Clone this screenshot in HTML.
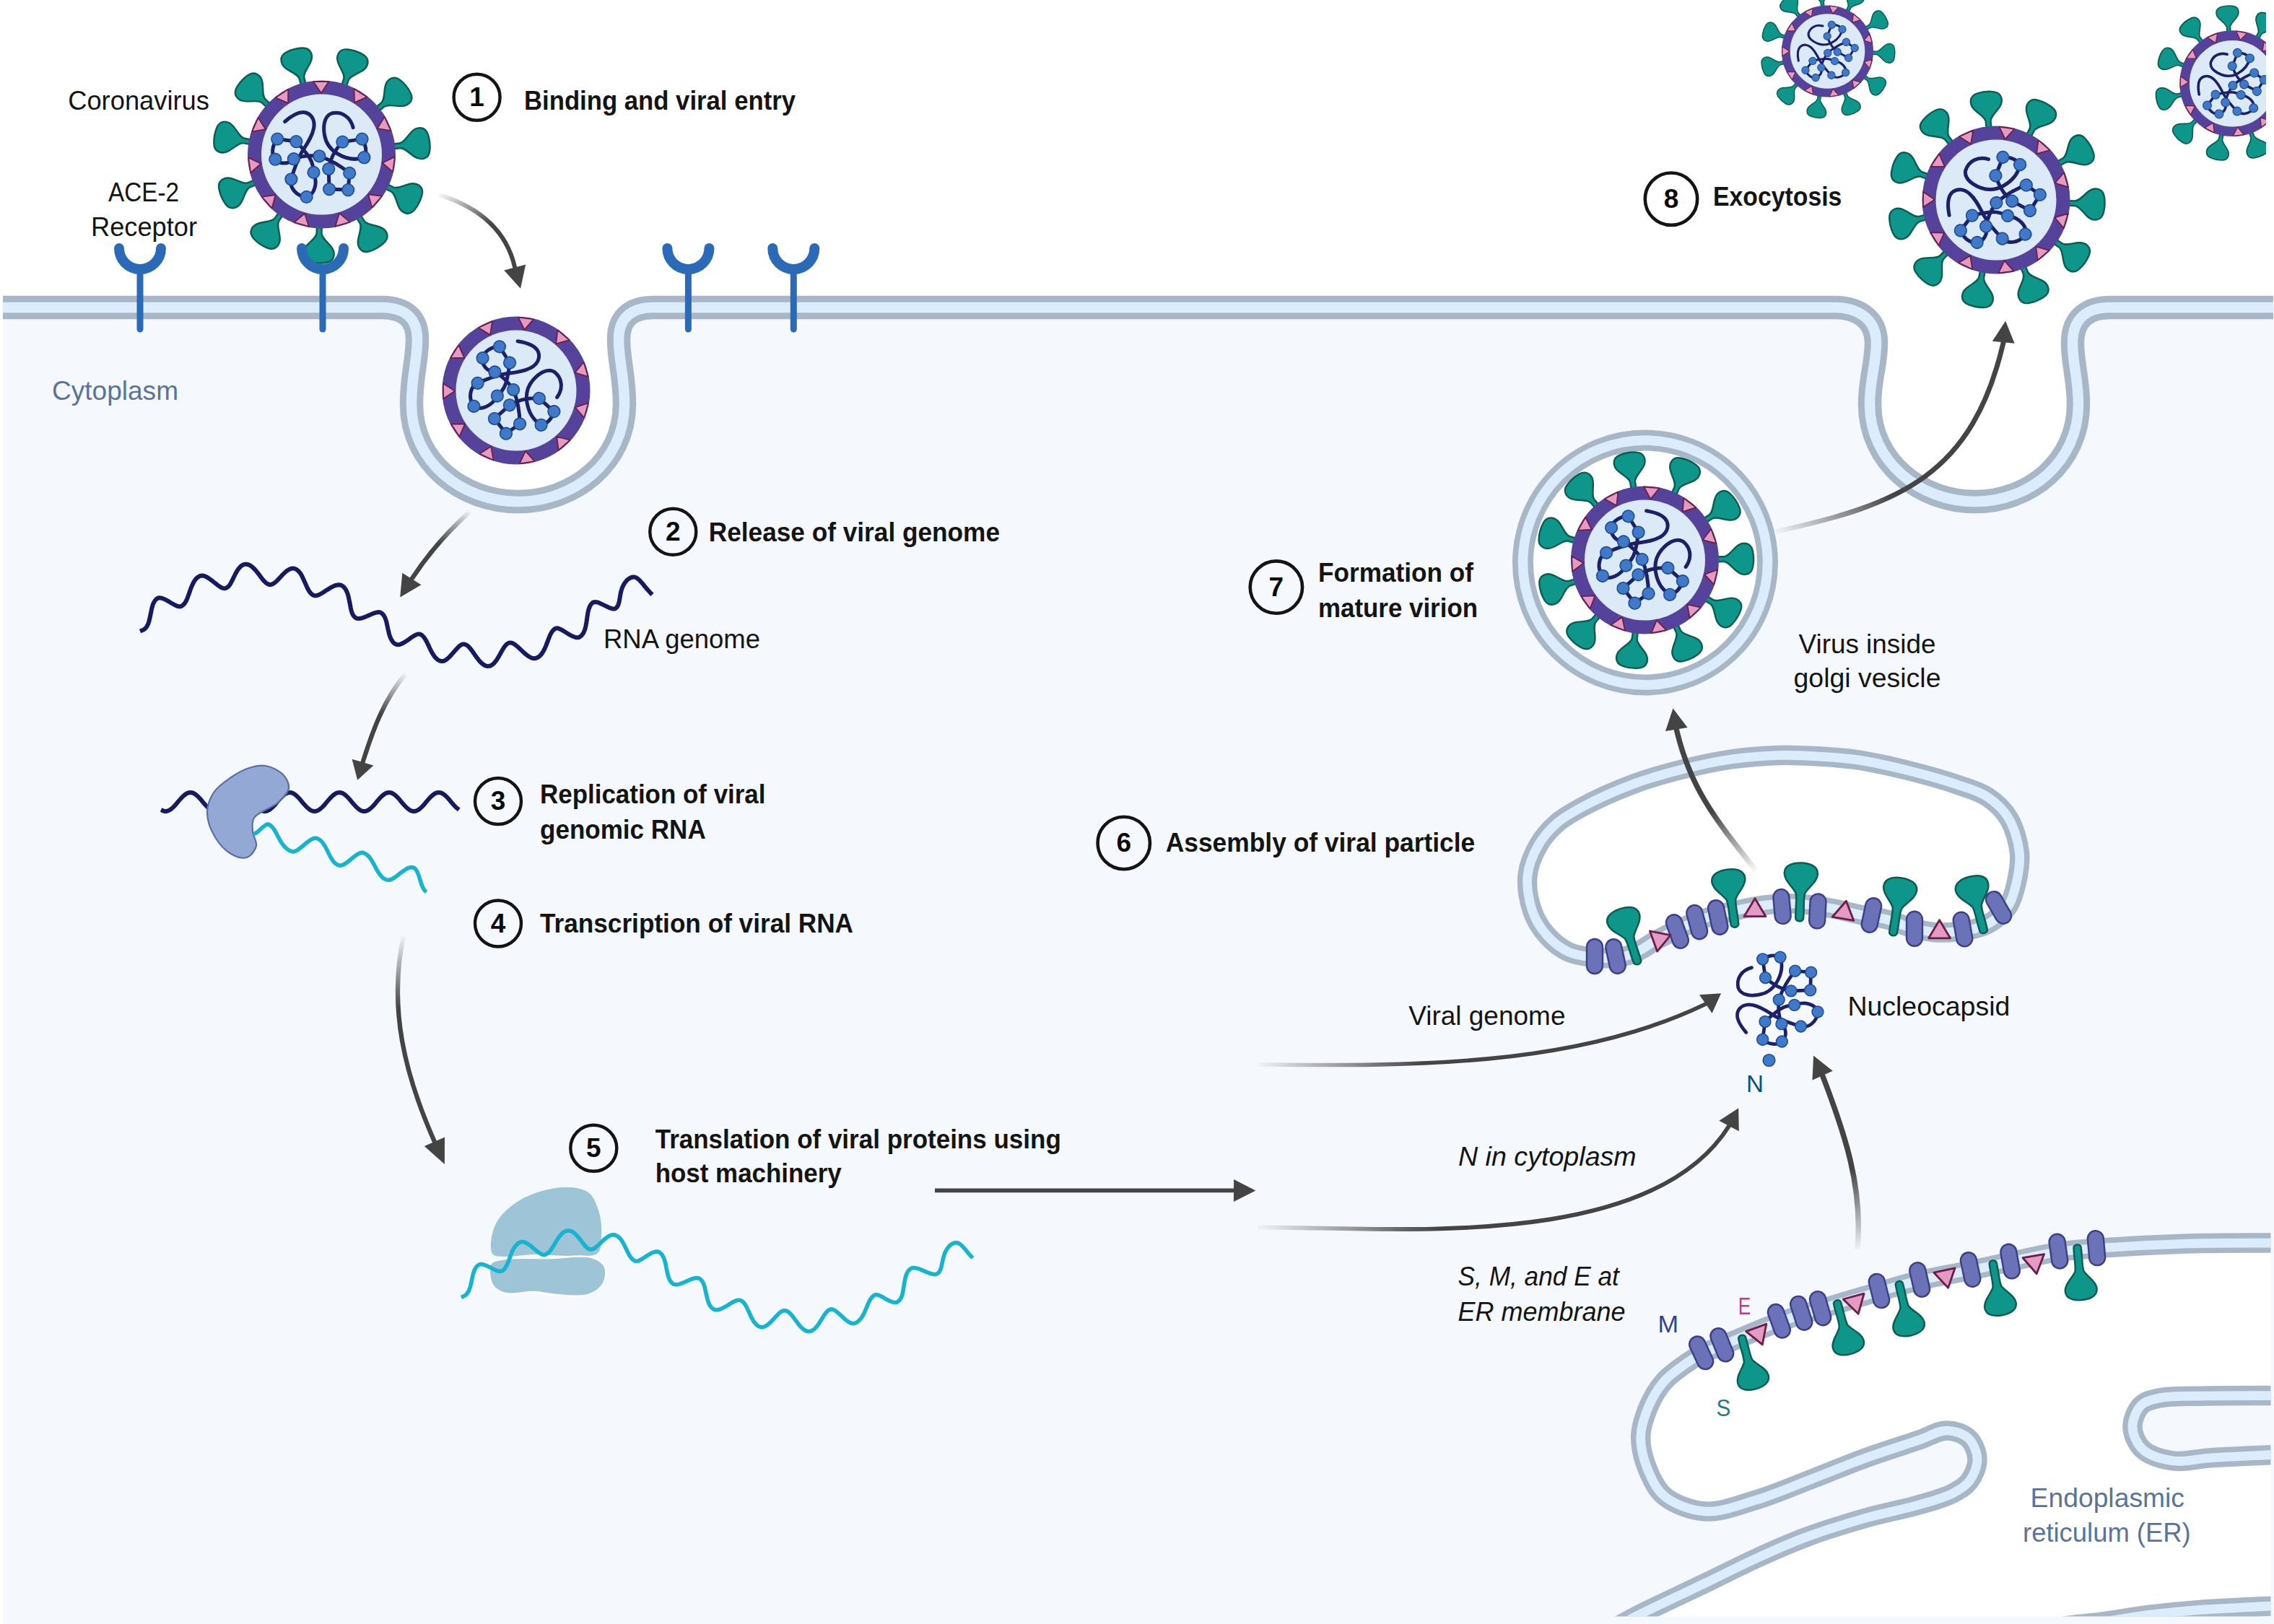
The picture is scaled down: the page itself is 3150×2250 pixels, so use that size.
<!DOCTYPE html><html><head><meta charset="utf-8"><style>html,body{margin:0;padding:0;background:#f5f9fd;}body{width:3150px;height:2250px;overflow:hidden;font-family:"Liberation Sans",sans-serif;}svg{display:block;}</style></head><body><svg xmlns="http://www.w3.org/2000/svg" width="3150" height="2250" viewBox="0 0 3150 2250" font-family="Liberation Sans, sans-serif"><defs><clipPath id="pmclip"><rect x="4" y="0" width="3145" height="2250"/></clipPath><clipPath id="erclip"><rect x="0" y="0" width="3145.5" height="2239.5"/></clipPath><path id="spk" d="M-3.4,6 L-3.4,-8 C-3.4,-14 -10,-18 -17,-26 C-24,-34 -23.5,-46 -11,-48.5 C-4,-50 4,-50 11,-48.5 C23.5,-46 24,-34 17,-26 C10,-18 3.4,-14 3.4,-8 L3.4,6 Z" fill="#0f968a" stroke="#0b5c53" stroke-width="2.4" stroke-linejoin="round"/><g id="vspikes"><use href="#spk" transform="rotate(90) translate(0,-101)"/><use href="#spk" transform="rotate(122.7) translate(0,-101)"/><use href="#spk" transform="rotate(155.5) translate(0,-101)"/><use href="#spk" transform="rotate(188.2) translate(0,-101)"/><use href="#spk" transform="rotate(220.9) translate(0,-101)"/><use href="#spk" transform="rotate(253.6) translate(0,-101)"/><use href="#spk" transform="rotate(286.4) translate(0,-101)"/><use href="#spk" transform="rotate(319.1) translate(0,-101)"/><use href="#spk" transform="rotate(351.8) translate(0,-101)"/><use href="#spk" transform="rotate(384.5) translate(0,-101)"/><use href="#spk" transform="rotate(417.3) translate(0,-101)"/></g><g id="genome"><g fill="none" stroke="#1b2068" stroke-width="5" stroke-linecap="round" stroke-linejoin="round"><path d="M-50.9,-45.5 C-40,-55 -30,-60 -22,-58 C-12,-55 -9,-45 -11,-36 C-13,-25 -20,-15 -27,-4 C-33,6 -38,20 -42.1,34.3"/><path d="M43.6,-37.3 C40,-52 28,-60 14,-57 C3,-53 2,-38 4,-27 C6,-15 12,-7 22,-1 C32,5 45,9 58.9,4.2"/><path d="M-35.2,-17.9 C-28,-10 -18,0 -14,10 C-12,15 -11,20 -11,24.9"/><path d="M-35.2,-17.9 L-61.3,-21.4 C-69,-12 -70,0 -64.2,6.7 C-58,14 -46,14 -38.6,6.2"/><path d="M-38.6,6.2 C-28,2 -15,1 -3.2,2.3"/><path d="M-3.2,2.3 C8,6 22,12 38.7,25.9"/><path d="M28.9,-17.4 L56,-21.4 C62,-12 63,-4 58.9,4.2"/><path d="M28.9,-17.4 C20,-8 12,4 9.7,20"/><path d="M-42.1,34.3 C-45,46 -35,58 -20.9,58.9 C-10,56 -5,40 -11,24.9"/><path d="M9.7,20 L10.6,48.1 L36.7,49.1 L38.7,25.9"/></g><g fill="#3f79c8" stroke="#1c4b98" stroke-width="1.6"><circle cx="-61.3" cy="-21.4" r="8.3"/><circle cx="-35.2" cy="-17.9" r="8.3"/><circle cx="-64.2" cy="6.7" r="8.3"/><circle cx="-38.6" cy="6.2" r="8.3"/><circle cx="-3.2" cy="2.3" r="8.3"/><circle cx="28.9" cy="-17.4" r="8.3"/><circle cx="56" cy="-21.4" r="8.3"/><circle cx="58.9" cy="4.2" r="8.3"/><circle cx="-11" cy="24.9" r="8.3"/><circle cx="-42.1" cy="34.3" r="8.3"/><circle cx="-20.9" cy="58.9" r="8.3"/><circle cx="9.7" cy="20" r="8.3"/><circle cx="38.7" cy="25.9" r="8.3"/><circle cx="10.6" cy="48.1" r="8.3"/><circle cx="36.7" cy="49.1" r="8.3"/></g></g><circle id="vring" r="93" fill="#dbeaf6" stroke="#55439b" stroke-width="19"/><path id="vtri" d="M100.5,14.5 L95.3,35 L82.4,20.9 Z M76.7,66.5 L61.2,81 L58,62.1 Z M28.6,97.4 L7.7,101.2 L15.3,83.6 Z M-28.6,97.4 L-48.2,89.3 L-32.4,78.6 Z M-76.7,66.4 L-88.9,49 L-69.7,48.6 Z M-100.5,14.4 L-101.3,-6.8 L-84.9,3.2 Z M-92.3,-42.2 L-81.5,-60.5 L-73.2,-43.2 Z M-54.8,-85.4 L-35.9,-94.9 L-38.2,-75.9 Z M0,-101.5 L21.1,-99.3 L8.9,-84.5 Z M54.9,-85.4 L71.5,-72.1 L53.2,-66.3 Z M92.3,-42.1 L99.1,-22 L80.6,-27 Z" fill="#e39bc4" stroke="#6e1d48" stroke-width="1.8" stroke-linejoin="round"/><clipPath id="rvclip"><rect x="0" y="0" width="3139" height="400"/></clipPath><rect id="mprot" x="-11" y="-24" width="22" height="48" rx="11" fill="#6b72b8" stroke="#3c3e8a" stroke-width="2.4"/><path id="eprot" d="M-15,9 L15,9 L0,-16 Z" fill="#e39bc4" stroke="#6e1d48" stroke-width="2.8" stroke-linejoin="round"/><path id="sprot" d="M-5,4 C-6,-10 -4,-22 -6,-30 C-10,-38 -22,-46 -22,-56 C-22,-68 -8,-70 0,-70 C8,-70 22,-68 22,-56 C22,-46 10,-38 6,-30 C4,-22 6,-10 5,4 C3,8 -3,8 -5,4 Z" fill="#0f968a" stroke="#0b5c53" stroke-width="2.4" stroke-linejoin="round"/><linearGradient id="ag0" gradientUnits="userSpaceOnUse" x1="607.7" y1="269.7" x2="658.7" y2="328.2"><stop offset="0" stop-color="#444444" stop-opacity="0.03"/><stop offset="1" stop-color="#444444" stop-opacity="1"/></linearGradient><linearGradient id="ag1" gradientUnits="userSpaceOnUse" x1="651.2" y1="708.6" x2="612.4" y2="756.2"><stop offset="0" stop-color="#444444" stop-opacity="0.03"/><stop offset="1" stop-color="#444444" stop-opacity="1"/></linearGradient><linearGradient id="ag2" gradientUnits="userSpaceOnUse" x1="561.7" y1="933.6" x2="535.1" y2="992.4"><stop offset="0" stop-color="#444444" stop-opacity="0.03"/><stop offset="1" stop-color="#444444" stop-opacity="1"/></linearGradient><linearGradient id="ag3" gradientUnits="userSpaceOnUse" x1="558.8" y1="1297.2" x2="575.9" y2="1391.9"><stop offset="0" stop-color="#444444" stop-opacity="0.03"/><stop offset="1" stop-color="#444444" stop-opacity="1"/></linearGradient><linearGradient id="ag5" gradientUnits="userSpaceOnUse" x1="1741.8" y1="1474.9" x2="1966.6" y2="1440.4"><stop offset="0" stop-color="#444444" stop-opacity="0.03"/><stop offset="1" stop-color="#444444" stop-opacity="1"/></linearGradient><linearGradient id="ag6" gradientUnits="userSpaceOnUse" x1="1742.1" y1="1700.5" x2="1975.2" y2="1642.6"><stop offset="0" stop-color="#444444" stop-opacity="0.03"/><stop offset="1" stop-color="#444444" stop-opacity="1"/></linearGradient><linearGradient id="ag7" gradientUnits="userSpaceOnUse" x1="2572.9" y1="1731.2" x2="2548.6" y2="1623.7"><stop offset="0" stop-color="#444444" stop-opacity="0.03"/><stop offset="1" stop-color="#444444" stop-opacity="1"/></linearGradient><linearGradient id="ag8" gradientUnits="userSpaceOnUse" x1="2432.1" y1="1206" x2="2386.3" y2="1116.2"><stop offset="0" stop-color="#444444" stop-opacity="0.03"/><stop offset="1" stop-color="#444444" stop-opacity="1"/></linearGradient><linearGradient id="ag9" gradientUnits="userSpaceOnUse" x1="2459.9" y1="736.5" x2="2571.3" y2="634.4"><stop offset="0" stop-color="#444444" stop-opacity="0.03"/><stop offset="1" stop-color="#444444" stop-opacity="1"/></linearGradient></defs><rect x="0" y="0" width="3150" height="2250" fill="#f5f9fd"/>
<path d="M0,426 L530,426 C560,426.5 578,440 578,470 C578,500 570,520 570,560 C570,640 640,695 717.5,695 C795,695 865,640 865,560 C865,520 857,500 857,470 C857,440 875,426 905,426 L2541,426 C2571,426 2599,440 2599,475 C2599,505 2590,525 2590,560 C2590,640 2660,695 2736,695 C2812,695 2879,640 2879,560 C2879,525 2871,505 2871,475 C2871,440 2893,426 2923,426 L3149,426 L3150,426 L3150,0 L0,0 Z" fill="#ffffff"/>
<rect x="0" y="0" width="4" height="2250" fill="#ffffff"/>
<g clip-path="url(#pmclip)"><path d="M0,426 L530,426 C560,426.5 578,440 578,470 C578,500 570,520 570,560 C570,640 640,695 717.5,695 C795,695 865,640 865,560 C865,520 857,500 857,470 C857,440 875,426 905,426 L2541,426 C2571,426 2599,440 2599,475 C2599,505 2590,525 2590,560 C2590,640 2660,695 2736,695 C2812,695 2879,640 2879,560 C2879,525 2871,505 2871,475 C2871,440 2893,426 2923,426 L3149,426" fill="none" stroke="#a8b7c7" stroke-width="32.5" /><path d="M0,426 L530,426 C560,426.5 578,440 578,470 C578,500 570,520 570,560 C570,640 640,695 717.5,695 C795,695 865,640 865,560 C865,520 857,500 857,470 C857,440 875,426 905,426 L2541,426 C2571,426 2599,440 2599,475 C2599,505 2590,525 2590,560 C2590,640 2660,695 2736,695 C2812,695 2879,640 2879,560 C2879,525 2871,505 2871,475 C2871,440 2893,426 2923,426 L3149,426" fill="none" stroke="#ddecfa" stroke-width="14.5" /></g>
<circle cx="2279" cy="779.5" r="169" fill="#ffffff"/>
<circle cx="2279" cy="779.5" r="169.5" fill="none" stroke="#a8b7c7" stroke-width="29"/>
<circle cx="2279" cy="779.5" r="169.5" fill="none" stroke="#ddecfa" stroke-width="13.5"/>
<path d="M2205,1326 C2194,1324.7 2183,1323.6 2173,1319 C2162.2,1314 2151.3,1305.3 2143,1296 C2134.6,1286.6 2127.5,1275.7 2123,1263 C2117.8,1248.5 2114.4,1228.8 2116,1213 C2117.5,1198.2 2124,1183.3 2131,1171 C2137.6,1159.5 2146.3,1149.6 2156,1141 C2165.9,1132.2 2176.1,1126.6 2190,1119 C2210,1108.1 2241.3,1094.1 2266,1085 C2288.5,1076.7 2309.9,1071 2332,1065.5 C2353.9,1060 2375.9,1055.2 2398,1052 C2419.9,1048.9 2445.3,1047.1 2464,1046.5 C2477.8,1046 2486,1046.4 2500,1047 C2519.5,1047.9 2546.7,1049.1 2570,1052.4 C2593.7,1055.7 2617.5,1061.2 2641,1067 C2664.5,1072.8 2690.8,1080 2711,1087 C2726.9,1092.5 2741,1096 2753,1104 C2764.4,1111.6 2774.7,1121 2782,1133 C2790.2,1146.4 2795.9,1166.1 2797.5,1182 C2798.9,1196.4 2795.9,1211.2 2793,1224 C2790.4,1235.3 2787.7,1246.1 2782,1255 C2776.3,1263.7 2767,1271.7 2759,1277 C2752.2,1281.5 2746.8,1283.7 2738,1286 C2724.5,1289.6 2700.8,1292.5 2685,1292 C2672.1,1291.6 2661.8,1288.9 2650,1286 C2637.5,1282.9 2624.2,1276.5 2612,1273.5 C2601,1270.8 2591.2,1270.2 2580,1268 C2567.4,1265.5 2553.4,1261.5 2540,1259 C2526.7,1256.5 2512.5,1254.1 2500,1253 C2489,1252 2479.6,1251.6 2469,1252 C2457.7,1252.4 2445.6,1253.8 2434,1255.6 C2422.3,1257.4 2410.6,1260.1 2399,1262.7 C2387.3,1265.4 2375.5,1267.8 2364,1271.5 C2352.2,1275.3 2340.6,1280.3 2329,1285.5 C2317.1,1290.8 2304.4,1297.1 2293.5,1303 C2283.9,1308.3 2276,1315 2267,1319 C2258.5,1322.8 2250.5,1325.7 2241,1327 C2230.1,1328.5 2216.6,1327.4 2205,1326 Z" fill="#ffffff"/>
<path d="M2205,1326 C2194,1324.7 2183,1323.6 2173,1319 C2162.2,1314 2151.3,1305.3 2143,1296 C2134.6,1286.6 2127.5,1275.7 2123,1263 C2117.8,1248.5 2114.4,1228.8 2116,1213 C2117.5,1198.2 2124,1183.3 2131,1171 C2137.6,1159.5 2146.3,1149.6 2156,1141 C2165.9,1132.2 2176.1,1126.6 2190,1119 C2210,1108.1 2241.3,1094.1 2266,1085 C2288.5,1076.7 2309.9,1071 2332,1065.5 C2353.9,1060 2375.9,1055.2 2398,1052 C2419.9,1048.9 2445.3,1047.1 2464,1046.5 C2477.8,1046 2486,1046.4 2500,1047 C2519.5,1047.9 2546.7,1049.1 2570,1052.4 C2593.7,1055.7 2617.5,1061.2 2641,1067 C2664.5,1072.8 2690.8,1080 2711,1087 C2726.9,1092.5 2741,1096 2753,1104 C2764.4,1111.6 2774.7,1121 2782,1133 C2790.2,1146.4 2795.9,1166.1 2797.5,1182 C2798.9,1196.4 2795.9,1211.2 2793,1224 C2790.4,1235.3 2787.7,1246.1 2782,1255 C2776.3,1263.7 2767,1271.7 2759,1277 C2752.2,1281.5 2746.8,1283.7 2738,1286 C2724.5,1289.6 2700.8,1292.5 2685,1292 C2672.1,1291.6 2661.8,1288.9 2650,1286 C2637.5,1282.9 2624.2,1276.5 2612,1273.5 C2601,1270.8 2591.2,1270.2 2580,1268 C2567.4,1265.5 2553.4,1261.5 2540,1259 C2526.7,1256.5 2512.5,1254.1 2500,1253 C2489,1252 2479.6,1251.6 2469,1252 C2457.7,1252.4 2445.6,1253.8 2434,1255.6 C2422.3,1257.4 2410.6,1260.1 2399,1262.7 C2387.3,1265.4 2375.5,1267.8 2364,1271.5 C2352.2,1275.3 2340.6,1280.3 2329,1285.5 C2317.1,1290.8 2304.4,1297.1 2293.5,1303 C2283.9,1308.3 2276,1315 2267,1319 C2258.5,1322.8 2250.5,1325.7 2241,1327 C2230.1,1328.5 2216.6,1327.4 2205,1326 Z" fill="none" stroke="#a8b7c7" stroke-width="27.5" /><path d="M2205,1326 C2194,1324.7 2183,1323.6 2173,1319 C2162.2,1314 2151.3,1305.3 2143,1296 C2134.6,1286.6 2127.5,1275.7 2123,1263 C2117.8,1248.5 2114.4,1228.8 2116,1213 C2117.5,1198.2 2124,1183.3 2131,1171 C2137.6,1159.5 2146.3,1149.6 2156,1141 C2165.9,1132.2 2176.1,1126.6 2190,1119 C2210,1108.1 2241.3,1094.1 2266,1085 C2288.5,1076.7 2309.9,1071 2332,1065.5 C2353.9,1060 2375.9,1055.2 2398,1052 C2419.9,1048.9 2445.3,1047.1 2464,1046.5 C2477.8,1046 2486,1046.4 2500,1047 C2519.5,1047.9 2546.7,1049.1 2570,1052.4 C2593.7,1055.7 2617.5,1061.2 2641,1067 C2664.5,1072.8 2690.8,1080 2711,1087 C2726.9,1092.5 2741,1096 2753,1104 C2764.4,1111.6 2774.7,1121 2782,1133 C2790.2,1146.4 2795.9,1166.1 2797.5,1182 C2798.9,1196.4 2795.9,1211.2 2793,1224 C2790.4,1235.3 2787.7,1246.1 2782,1255 C2776.3,1263.7 2767,1271.7 2759,1277 C2752.2,1281.5 2746.8,1283.7 2738,1286 C2724.5,1289.6 2700.8,1292.5 2685,1292 C2672.1,1291.6 2661.8,1288.9 2650,1286 C2637.5,1282.9 2624.2,1276.5 2612,1273.5 C2601,1270.8 2591.2,1270.2 2580,1268 C2567.4,1265.5 2553.4,1261.5 2540,1259 C2526.7,1256.5 2512.5,1254.1 2500,1253 C2489,1252 2479.6,1251.6 2469,1252 C2457.7,1252.4 2445.6,1253.8 2434,1255.6 C2422.3,1257.4 2410.6,1260.1 2399,1262.7 C2387.3,1265.4 2375.5,1267.8 2364,1271.5 C2352.2,1275.3 2340.6,1280.3 2329,1285.5 C2317.1,1290.8 2304.4,1297.1 2293.5,1303 C2283.9,1308.3 2276,1315 2267,1319 C2258.5,1322.8 2250.5,1325.7 2241,1327 C2230.1,1328.5 2216.6,1327.4 2205,1326 Z" fill="none" stroke="#ddecfa" stroke-width="12.7" />
<g clip-path="url(#erclip)">
<path d="M3160,1722 C3116.7,1722.3 3073,1721.7 3030,1723 C2987.7,1724.3 2937,1727.1 2904,1729.5 C2882.5,1731.1 2869.6,1731.7 2851,1734.5 C2830.1,1737.6 2806,1743.6 2785,1748 C2765.8,1752.1 2749.5,1755.9 2730,1760 C2707.9,1764.6 2681.2,1768.8 2659,1774 C2639.1,1778.7 2623.4,1783.7 2603,1789.5 C2578.5,1796.5 2546.6,1806 2522,1813.5 C2501.3,1819.8 2485.4,1824.1 2465,1831.5 C2440.4,1840.4 2404.8,1856.3 2385,1864.5 C2373.3,1869.3 2366.1,1871.3 2357,1876 C2347.7,1880.8 2338.6,1886.7 2330,1893 C2321.3,1899.4 2312.4,1905.5 2305,1914 C2296.8,1923.4 2289.3,1935.6 2284,1948 C2278.4,1961.1 2272.9,1976 2272.7,1991 C2272.5,2007.3 2278.5,2027.5 2285,2042 C2290.6,2054.5 2296.3,2065.7 2307,2074 C2320.2,2084.2 2342.3,2092.7 2362,2094 C2384,2095.4 2408.9,2085.2 2433,2078 C2459,2070.2 2486.7,2057.9 2512.6,2048 C2537.3,2038.5 2560.7,2028.5 2585,2019.7 C2609.1,2011 2637.2,2002.2 2657.7,1995.3 C2672.8,1990.2 2684.8,1981.8 2697,1982 C2707.7,1982.1 2720,1986.3 2727,1993 C2733.9,1999.7 2738.8,2012.2 2739,2022 C2739.2,2031.9 2733.9,2044.1 2728,2052 C2722.4,2059.5 2714.5,2064 2705,2069 C2692.4,2075.6 2675.3,2079.9 2657.7,2085 C2636.2,2091.3 2610,2095.9 2585,2103 C2557.9,2110.7 2527.3,2120.2 2501,2130 C2476.9,2139 2455.5,2148.7 2433,2159 C2410.2,2169.4 2389.7,2180.1 2365,2192 C2335.3,2206.3 2292.7,2225.8 2267,2239 C2249.9,2247.8 2239,2254.3 2225,2262 L2820,2262 C2833.3,2259 2846,2255.4 2860,2253 C2875.2,2250.4 2890.6,2249.9 2908,2247.6 C2928.7,2244.9 2953.3,2240.2 2976,2237.4 C2998.8,2234.6 3018.7,2232.6 3044.5,2230.6 C3078,2228.1 3121.5,2226.5 3160,2224.5 L3160,2012 C3126.7,2016.7 3087.4,2018.2 3060,2020 C3040.8,2021.3 3026.6,2026.2 3011,2024 C2996,2021.9 2977.5,2016.9 2968,2008 C2959.8,2000.3 2954.2,1987.3 2954,1977 C2953.8,1967 2959.3,1953.7 2966,1947 C2972.1,1940.9 2980.3,1939.3 2991,1937 C3008.1,1933.3 3034.9,1934.6 3060,1934 C3090.2,1933.3 3126.7,1933.7 3160,1933.5 Z" fill="#ffffff" fill-rule="evenodd"/>
<path d="M3160,1722 C3116.7,1722.3 3073,1721.7 3030,1723 C2987.7,1724.3 2937,1727.1 2904,1729.5 C2882.5,1731.1 2869.6,1731.7 2851,1734.5 C2830.1,1737.6 2806,1743.6 2785,1748 C2765.8,1752.1 2749.5,1755.9 2730,1760 C2707.9,1764.6 2681.2,1768.8 2659,1774 C2639.1,1778.7 2623.4,1783.7 2603,1789.5 C2578.5,1796.5 2546.6,1806 2522,1813.5 C2501.3,1819.8 2485.4,1824.1 2465,1831.5 C2440.4,1840.4 2404.8,1856.3 2385,1864.5 C2373.3,1869.3 2366.1,1871.3 2357,1876 C2347.7,1880.8 2338.6,1886.7 2330,1893 C2321.3,1899.4 2312.4,1905.5 2305,1914 C2296.8,1923.4 2289.3,1935.6 2284,1948 C2278.4,1961.1 2272.9,1976 2272.7,1991 C2272.5,2007.3 2278.5,2027.5 2285,2042 C2290.6,2054.5 2296.3,2065.7 2307,2074 C2320.2,2084.2 2342.3,2092.7 2362,2094 C2384,2095.4 2408.9,2085.2 2433,2078 C2459,2070.2 2486.7,2057.9 2512.6,2048 C2537.3,2038.5 2560.7,2028.5 2585,2019.7 C2609.1,2011 2637.2,2002.2 2657.7,1995.3 C2672.8,1990.2 2684.8,1981.8 2697,1982 C2707.7,1982.1 2720,1986.3 2727,1993 C2733.9,1999.7 2738.8,2012.2 2739,2022 C2739.2,2031.9 2733.9,2044.1 2728,2052 C2722.4,2059.5 2714.5,2064 2705,2069 C2692.4,2075.6 2675.3,2079.9 2657.7,2085 C2636.2,2091.3 2610,2095.9 2585,2103 C2557.9,2110.7 2527.3,2120.2 2501,2130 C2476.9,2139 2455.5,2148.7 2433,2159 C2410.2,2169.4 2389.7,2180.1 2365,2192 C2335.3,2206.3 2292.7,2225.8 2267,2239 C2249.9,2247.8 2239,2254.3 2225,2262" fill="none" stroke="#a8b7c7" stroke-width="27.5" /><path d="M3160,1722 C3116.7,1722.3 3073,1721.7 3030,1723 C2987.7,1724.3 2937,1727.1 2904,1729.5 C2882.5,1731.1 2869.6,1731.7 2851,1734.5 C2830.1,1737.6 2806,1743.6 2785,1748 C2765.8,1752.1 2749.5,1755.9 2730,1760 C2707.9,1764.6 2681.2,1768.8 2659,1774 C2639.1,1778.7 2623.4,1783.7 2603,1789.5 C2578.5,1796.5 2546.6,1806 2522,1813.5 C2501.3,1819.8 2485.4,1824.1 2465,1831.5 C2440.4,1840.4 2404.8,1856.3 2385,1864.5 C2373.3,1869.3 2366.1,1871.3 2357,1876 C2347.7,1880.8 2338.6,1886.7 2330,1893 C2321.3,1899.4 2312.4,1905.5 2305,1914 C2296.8,1923.4 2289.3,1935.6 2284,1948 C2278.4,1961.1 2272.9,1976 2272.7,1991 C2272.5,2007.3 2278.5,2027.5 2285,2042 C2290.6,2054.5 2296.3,2065.7 2307,2074 C2320.2,2084.2 2342.3,2092.7 2362,2094 C2384,2095.4 2408.9,2085.2 2433,2078 C2459,2070.2 2486.7,2057.9 2512.6,2048 C2537.3,2038.5 2560.7,2028.5 2585,2019.7 C2609.1,2011 2637.2,2002.2 2657.7,1995.3 C2672.8,1990.2 2684.8,1981.8 2697,1982 C2707.7,1982.1 2720,1986.3 2727,1993 C2733.9,1999.7 2738.8,2012.2 2739,2022 C2739.2,2031.9 2733.9,2044.1 2728,2052 C2722.4,2059.5 2714.5,2064 2705,2069 C2692.4,2075.6 2675.3,2079.9 2657.7,2085 C2636.2,2091.3 2610,2095.9 2585,2103 C2557.9,2110.7 2527.3,2120.2 2501,2130 C2476.9,2139 2455.5,2148.7 2433,2159 C2410.2,2169.4 2389.7,2180.1 2365,2192 C2335.3,2206.3 2292.7,2225.8 2267,2239 C2249.9,2247.8 2239,2254.3 2225,2262" fill="none" stroke="#ddecfa" stroke-width="12.7" />
<path d="M3160,1933.5 C3126.7,1933.7 3090.2,1933.3 3060,1934 C3034.9,1934.6 3008.1,1933.3 2991,1937 C2980.3,1939.3 2972.1,1940.9 2966,1947 C2959.3,1953.7 2953.8,1967 2954,1977 C2954.2,1987.3 2959.8,2000.3 2968,2008 C2977.5,2016.9 2996,2021.9 3011,2024 C3026.6,2026.2 3040.8,2021.3 3060,2020 C3087.4,2018.2 3126.7,2016.7 3160,2015" fill="none" stroke="#a8b7c7" stroke-width="27.5" /><path d="M3160,1933.5 C3126.7,1933.7 3090.2,1933.3 3060,1934 C3034.9,1934.6 3008.1,1933.3 2991,1937 C2980.3,1939.3 2972.1,1940.9 2966,1947 C2959.3,1953.7 2953.8,1967 2954,1977 C2954.2,1987.3 2959.8,2000.3 2968,2008 C2977.5,2016.9 2996,2021.9 3011,2024 C3026.6,2026.2 3040.8,2021.3 3060,2020 C3087.4,2018.2 3126.7,2016.7 3160,2015" fill="none" stroke="#ddecfa" stroke-width="12.7" />
<path d="M2820,2262 C2833.3,2259 2846,2255.4 2860,2253 C2875.2,2250.4 2890.6,2249.9 2908,2247.6 C2928.7,2244.9 2953.3,2240.2 2976,2237.4 C2998.8,2234.6 3018.7,2232.6 3044.5,2230.6 C3078,2228.1 3121.5,2226.5 3160,2224.5" fill="none" stroke="#a8b7c7" stroke-width="27.5" /><path d="M2820,2262 C2833.3,2259 2846,2255.4 2860,2253 C2875.2,2250.4 2890.6,2249.9 2908,2247.6 C2928.7,2244.9 2953.3,2240.2 2976,2237.4 C2998.8,2234.6 3018.7,2232.6 3044.5,2230.6 C3078,2228.1 3121.5,2226.5 3160,2224.5" fill="none" stroke="#ddecfa" stroke-width="12.7" />
</g>
<g transform="translate(445.5,214)"><use href="#vspikes" transform="rotate(-6.4)"/><use href="#vring"/><use href="#vtri" transform="rotate(-6.4)"/><use href="#genome" transform="rotate(0)"/></g>
<g transform="translate(715,541)"><use href="#vring"/><use href="#vtri" transform="rotate(1.7)"/><use href="#genome" transform="rotate(50)"/></g>
<g transform="translate(2765,277)"><use href="#vspikes" transform="rotate(2.5)"/><use href="#vring"/><use href="#vtri" transform="rotate(2.5)"/><use href="#genome" transform="rotate(-60)"/></g>
<g transform="translate(2531.5,71) scale(0.62)"><use href="#vspikes" transform="rotate(2)"/><use href="#vring"/><use href="#vtri" transform="rotate(2)"/><use href="#genome" transform="rotate(-60)"/></g>
<g clip-path="url(#rvclip)"><g transform="translate(3092.7,115.7) scale(0.716)"><use href="#vspikes" transform="rotate(4)"/><use href="#vring"/><use href="#vtri" transform="rotate(4)"/><use href="#genome" transform="rotate(-60)"/></g></g>
<g transform="translate(2278.5,776)"><use href="#vspikes" transform="rotate(-0.7)"/><use href="#vring"/><use href="#vtri" transform="rotate(-0.7)"/><use href="#genome" transform="rotate(50)"/></g>
<path d="M165,344 A29,29 0 0 0 223,344" fill="none" stroke="#2b6ab6" stroke-width="14" stroke-linecap="round"/>
<line x1="194" y1="372" x2="194" y2="456" stroke="#2b6ab6" stroke-width="9" stroke-linecap="round"/>
<path d="M418,344 A29,29 0 0 0 476,344" fill="none" stroke="#2b6ab6" stroke-width="14" stroke-linecap="round"/>
<line x1="447" y1="372" x2="447" y2="456" stroke="#2b6ab6" stroke-width="9" stroke-linecap="round"/>
<path d="M924.4,344 A29,29 0 0 0 982.4,344" fill="none" stroke="#2b6ab6" stroke-width="14" stroke-linecap="round"/>
<line x1="953.4" y1="372" x2="953.4" y2="456" stroke="#2b6ab6" stroke-width="9" stroke-linecap="round"/>
<path d="M1070.3,344 A29,29 0 0 0 1128.3,344" fill="none" stroke="#2b6ab6" stroke-width="14" stroke-linecap="round"/>
<line x1="1099.3" y1="372" x2="1099.3" y2="456" stroke="#2b6ab6" stroke-width="9" stroke-linecap="round"/>
<path d="M194,874.5 L199,872.5 199.1,872.4 200.7,871.2 202.2,869.7 203.4,867.9 204.5,865.9 205.5,863.7 206.3,861.2 207.0,858.6 207.6,855.8 208.2,853.0 208.8,850.1 209.4,847.3 209.9,844.5 210.6,841.8 211.3,839.2 212.1,836.8 213.1,834.7 214.3,832.7 215.6,831.0 217.1,829.6 218.9,828.5 221.1,828.2 223.8,828.6 226.9,829.8 230.3,831.4 233.8,833.4 237.3,835.5 240.7,837.4 243.8,839.0 246.7,840.1 249.1,840.4 251.1,840.0 252.7,838.9 254.2,837.6 255.6,836.1 256.8,834.3 258.0,832.2 259.0,830.0 260.0,827.6 260.9,825.1 261.9,822.4 262.8,819.8 263.7,817.0 264.7,814.4 265.8,811.8 266.9,809.3 268.1,806.9 269.4,804.8 270.8,802.8 272.3,801.1 274.0,799.7 275.8,798.6 277.7,797.7 279.9,797.5 282.3,797.8 284.8,798.8 287.6,800.2 290.4,802.1 293.3,804.2 296.2,806.5 299.0,808.7 301.7,810.8 304.3,812.7 306.7,814.1 309.0,814.9 311.0,815.2 312.9,814.9 314.6,814.0 316.2,812.7 317.8,810.9 319.2,808.8 320.6,806.2 322.0,803.5 323.4,800.5 324.9,797.5 326.4,794.5 328.0,791.7 329.7,789.0 331.6,786.7 333.4,784.7 335.4,783.2 337.5,782.2 339.6,781.7 341.8,781.8 344.0,782.3 346.3,783.3 348.5,784.8 350.7,786.6 352.8,788.7 354.9,791.1 356.9,793.6 358.9,796.2 360.8,798.8 362.7,801.3 364.5,803.6 366.4,805.6 368.2,807.3 370.0,808.6 371.8,809.5 373.7,810.0 375.6,809.9 377.6,809.2 379.6,808.0 381.8,806.3 384.0,804.2 386.3,801.8 388.7,799.2 391.1,796.6 393.6,794.2 396.1,791.9 398.6,790.0 401.1,788.6 403.5,787.7 405.7,787.4 407.8,787.7 409.9,788.5 411.7,789.7 413.5,791.2 415.1,793.1 416.7,795.3 418.1,797.8 419.4,800.4 420.7,803.2 421.9,806.0 423.2,808.8 424.4,811.6 425.6,814.3 426.9,816.7 428.2,819.0 429.6,820.9 431.1,822.6 432.7,823.8 434.4,824.8 436.3,825.3 438.3,825.2 440.6,824.6 443.0,823.5 445.7,822.0 448.5,820.2 451.4,818.3 454.5,816.4 457.5,814.5 460.5,812.9 463.5,811.5 466.3,810.7 468.8,810.2 471.2,810.4 473.2,811.1 475.0,812.3 476.6,813.7 478.1,815.5 479.3,817.5 480.4,819.8 481.4,822.2 482.2,824.9 482.9,827.6 483.5,830.5 484.1,833.3 484.7,836.2 485.2,839.1 485.7,841.8 486.3,844.5 486.9,846.9 487.7,849.2 488.6,851.2 489.7,853.1 491.0,854.6 492.6,856.0 494.4,856.8 496.7,857.1 499.4,856.8 502.5,856.0 505.8,854.7 509.3,853.3 512.8,851.7 516.2,850.3 519.4,849.1 522.3,848.4 524.9,848.1 527.0,848.5 528.7,849.5 530.2,850.9 531.5,852.5 532.6,854.3 533.6,856.4 534.4,858.7 535.2,861.2 535.8,863.8 536.4,866.6 537.0,869.4 537.6,872.2 538.3,875.0 538.9,877.8 539.7,880.4 540.6,882.9 541.6,885.2 542.8,887.3 544.1,889.2 545.6,890.8 547.3,892.1 549.3,893.0 551.6,893.2 554.3,892.7 557.2,891.5 560.3,889.8 563.6,887.7 566.8,885.5 569.9,883.2 572.9,881.3 575.7,879.7 578.2,878.7 580.3,878.4 582.2,878.8 583.9,879.7 585.5,881.0 586.9,882.5 588.3,884.3 589.6,886.4 590.9,888.7 592.1,891.2 593.4,893.8 594.6,896.5 595.9,899.2 597.2,901.9 598.6,904.5 600.1,906.9 601.6,909.2 603.3,911.2 605.0,912.9 606.9,914.3 608.8,915.3 610.8,916.0 613.0,916.1 615.3,915.5 617.6,914.3 620.1,912.4 622.6,910.1 625.1,907.4 627.6,904.5 630.1,901.7 632.5,899.0 634.8,896.6 637.1,894.6 639.2,893.2 641.2,892.5 643.1,892.5 645.0,893.1 646.8,894.0 648.6,895.4 650.3,897.2 652.1,899.3 653.9,901.6 655.7,904.2 657.5,906.9 659.4,909.6 661.3,912.2 663.3,914.7 665.3,917.0 667.4,919.0 669.5,920.6 671.6,921.9 673.7,922.7 675.9,923.0 678.0,922.8 680.2,922.1 682.2,920.8 684.2,919.0 686.1,916.8 688.0,914.2 689.8,911.4 691.6,908.4 693.3,905.3 694.9,902.3 696.6,899.5 698.2,896.9 699.8,894.7 701.5,892.9 703.2,891.6 705.0,890.7 706.9,890.4 708.8,890.7 710.9,891.6 713.1,892.9 715.4,894.7 717.9,896.8 720.4,899.2 723.0,901.6 725.6,904.1 728.3,906.4 730.9,908.4 733.5,910.1 736.0,911.4 738.4,912.1 740.7,912.2 742.7,911.8 744.7,910.9 746.6,909.7 748.3,908.2 749.9,906.4 751.4,904.3 752.8,902.0 754.1,899.5 755.3,896.9 756.5,894.1 757.5,891.4 758.6,888.6 759.6,885.9 760.6,883.3 761.6,880.8 762.7,878.5 763.9,876.4 765.1,874.6 766.5,873.0 767.9,871.7 769.6,870.7 771.5,870.3 773.8,870.7 776.6,871.9 779.7,873.7 783.2,875.8 786.7,878.0 790.3,880.1 793.8,881.8 797.1,883.0 799.9,883.4 802.2,883.0 804.0,881.8 805.6,880.4 807.0,878.7 808.2,876.8 809.2,874.7 810.1,872.4 810.8,869.9 811.4,867.4 811.9,864.7 812.4,862.0 812.8,859.3 813.2,856.5 813.6,853.8 814.0,851.1 814.4,848.5 815.0,846.1 815.6,843.7 816.4,841.6 817.3,839.6 818.4,837.7 819.8,836.1 821.3,834.7 823.5,834.0 826.3,834.2 829.8,835.2 833.6,836.9 837.5,838.9 841.4,840.8 845.1,842.4 848.3,843.4 850.9,843.6 852.8,842.9 854.2,841.6 855.4,840.0 856.3,838.1 857.1,835.8 857.7,833.4 858.2,830.6 858.7,827.7 859.2,824.7 859.8,821.5 860.6,818.3 861.6,815.2 862.9,812.1 864.4,809.2 866.2,806.6 868.1,804.3 870.2,802.4 872.3,801.0 874.5,800.0 876.7,799.5 879.0,799.5 881.2,800.3 883.4,801.7 885.7,803.7 888.0,806.2 890.5,809.0 892.9,812.1 895.5,815.2 898.2,818.3 900.9,821.2 903.5,823.9" fill="none" stroke="#151b5e" stroke-width="6" stroke-linejoin="round"/>
<path d="M223,1121.9 C224.4,1122.5 225.8,1123.5 227.3,1123.8 C228.7,1124.1 230.2,1124 231.6,1123.7 C233.1,1123.4 234.5,1122.6 235.9,1121.7 C237.4,1120.7 238.8,1119.4 240.2,1118.1 C241.7,1116.6 243.1,1115 244.5,1113.4 C245.9,1111.7 247.3,1109.9 248.8,1108.3 C250.2,1106.7 251.6,1105 253.1,1103.6 C254.5,1102.3 255.9,1101 257.4,1100.1 C258.8,1099.2 260.2,1098.5 261.7,1098.2 C263.1,1097.9 264.6,1098 266,1098.3 C267.5,1098.6 268.9,1099.4 270.3,1100.3 C271.8,1101.3 273.2,1102.6 274.6,1103.9 C276.1,1105.4 277.5,1107 278.9,1108.6 C280.3,1110.3 281.7,1112.1 283.2,1113.7 C284.6,1115.3 286,1117 287.5,1118.4 C288.9,1119.7 290.3,1121 291.8,1121.9 C293.2,1122.8 294.6,1123.5 296.1,1123.8 C297.5,1124.1 299,1124 300.4,1123.7 C301.9,1123.4 303.3,1122.6 304.7,1121.7 C306.2,1120.7 307.6,1119.4 309,1118.1 C310.5,1116.6 311.9,1115 313.3,1113.4 C314.7,1111.7 316.1,1109.9 317.6,1108.3 C319,1106.7 320.4,1105 321.9,1103.6 C323.3,1102.3 324.7,1101 326.2,1100.1 C327.6,1099.2 329,1098.5 330.5,1098.2 C331.9,1097.9 333.4,1098 334.8,1098.3 C336.3,1098.6 337.7,1099.4 339.1,1100.3 C340.6,1101.3 342,1102.6 343.4,1103.9 C344.9,1105.4 346.3,1107 347.7,1108.6 C349.1,1110.3 350.5,1112.1 352,1113.7 C353.4,1115.3 354.8,1117 356.3,1118.4 C357.7,1119.7 359.1,1121 360.6,1121.9 C362,1122.8 363.4,1123.5 364.9,1123.8 C366.3,1124.1 367.8,1124 369.2,1123.7 C370.7,1123.4 372.1,1122.6 373.5,1121.7 C375,1120.7 376.4,1119.4 377.8,1118.1 C379.3,1116.6 380.7,1115 382.1,1113.4 C383.5,1111.7 384.9,1109.9 386.4,1108.3 C387.8,1106.7 389.2,1105 390.7,1103.6 C392.1,1102.3 393.5,1101 395,1100.1 C396.4,1099.2 397.8,1098.5 399.3,1098.2 C400.7,1097.9 402.2,1098 403.6,1098.3 C405.1,1098.6 406.5,1099.4 407.9,1100.3 C409.4,1101.3 410.8,1102.6 412.2,1103.9 C413.7,1105.4 415.1,1107 416.5,1108.6 C417.9,1110.3 419.3,1112.1 420.8,1113.7 C422.2,1115.3 423.6,1117 425.1,1118.4 C426.5,1119.7 427.9,1121 429.4,1121.9 C430.8,1122.8 432.2,1123.5 433.7,1123.8 C435.1,1124.1 436.6,1124 438,1123.7 C439.5,1123.4 440.9,1122.6 442.3,1121.7 C443.8,1120.7 445.2,1119.4 446.6,1118.1 C448.1,1116.6 449.5,1115 450.9,1113.4 C452.3,1111.7 453.7,1109.9 455.2,1108.3 C456.6,1106.7 458,1105 459.5,1103.6 C460.9,1102.3 462.3,1101 463.8,1100.1 C465.2,1099.2 466.6,1098.5 468.1,1098.2 C469.5,1097.9 471,1098 472.4,1098.3 C473.9,1098.6 475.3,1099.4 476.7,1100.3 C478.2,1101.3 479.6,1102.6 481,1103.9 C482.5,1105.4 483.9,1107 485.3,1108.6 C486.7,1110.3 488.1,1112.1 489.6,1113.7 C491,1115.3 492.4,1117 493.9,1118.4 C495.3,1119.7 496.7,1121 498.2,1121.9 C499.6,1122.8 501,1123.5 502.5,1123.8 C503.9,1124.1 505.4,1124 506.8,1123.7 C508.3,1123.4 509.7,1122.6 511.1,1121.7 C512.6,1120.7 514,1119.4 515.4,1118.1 C516.9,1116.6 518.3,1115 519.7,1113.4 C521.1,1111.7 522.5,1109.9 524,1108.3 C525.4,1106.7 526.8,1105 528.3,1103.6 C529.7,1102.3 531.1,1101 532.6,1100.1 C534,1099.2 535.4,1098.5 536.9,1098.2 C538.3,1097.9 539.8,1098 541.2,1098.3 C542.7,1098.6 544.1,1099.4 545.5,1100.3 C547,1101.3 548.4,1102.6 549.8,1103.9 C551.3,1105.4 552.7,1107 554.1,1108.6 C555.5,1110.3 556.9,1112.1 558.4,1113.7 C559.8,1115.3 561.2,1117 562.7,1118.4 C564.1,1119.7 565.5,1121 567,1121.9 C568.4,1122.8 569.8,1123.5 571.3,1123.8 C572.7,1124.1 574.2,1124 575.6,1123.7 C577.1,1123.4 578.5,1122.6 579.9,1121.7 C581.4,1120.7 582.8,1119.4 584.2,1118.1 C585.7,1116.6 587.1,1115 588.5,1113.4 C589.9,1111.7 591.3,1109.9 592.8,1108.3 C594.2,1106.7 595.6,1105 597.1,1103.6 C598.5,1102.3 599.9,1101 601.4,1100.1 C602.8,1099.2 604.2,1098.5 605.7,1098.2 C607.1,1097.9 608.6,1098 610,1098.3 C611.5,1098.6 612.9,1099.4 614.3,1100.3 C615.8,1101.3 617.2,1102.6 618.6,1103.9 C620.1,1105.4 621.5,1107 622.9,1108.6 C624.3,1110.3 625.7,1112.1 627.2,1113.7 C628.6,1115.3 630,1117 631.5,1118.4 C632.9,1119.7 634.4,1120.7 635.8,1121.9" fill="none" stroke="#151b5e" stroke-width="6"/>
<path d="M368,1061 C376.1,1062.4 386.6,1067.3 392,1073 C396.7,1078 400.8,1085.8 400,1092 C399.2,1098.8 391.7,1105.8 385,1112 C376.6,1119.7 357.1,1124.8 352,1133 C348.4,1138.7 349.6,1145.6 350,1152 C350.5,1158.6 356.3,1166 355,1172 C353.7,1178 347.6,1186.1 342,1188 C336.1,1190 326.8,1186.9 320,1183 C311.9,1178.4 303.5,1169.1 298,1160 C292.2,1150.3 287,1136.8 287,1126 C287,1116.2 290.7,1106.1 296,1098 C301.5,1089.6 311.6,1082.8 320,1077 C327.9,1071.6 336.6,1066.6 345,1064 C352.6,1061.6 360.4,1059.7 368,1061 Z" fill="#93a8d4" stroke="#5a6fa6" stroke-width="2.2"/>
<path d="M350.8,1155.0 353.1,1154.9 356.2,1153.0 359.8,1149.8 363.6,1146.3 367.3,1143.5 370.3,1141.9 372.4,1142.2 374.2,1143.3 375.8,1144.6 377.2,1146.0 378.6,1147.7 379.9,1149.5 381.1,1151.5 382.3,1153.6 383.4,1155.8 384.6,1158.1 385.8,1160.4 387.1,1162.7 388.4,1165.0 389.8,1167.3 391.3,1169.4 392.9,1171.4 394.5,1173.3 396.2,1175.0 397.9,1176.4 399.7,1177.7 401.5,1178.7 403.4,1179.4 405.4,1179.9 407.5,1179.7 409.8,1178.9 412.2,1177.6 414.7,1175.9 417.3,1173.8 420.1,1171.5 422.8,1169.2 425.5,1167.0 428.2,1165.0 430.8,1163.3 433.2,1162.0 435.5,1161.3 437.7,1161.2 439.6,1161.7 441.4,1162.6 443.2,1163.7 444.9,1165.2 446.4,1166.9 447.9,1168.9 449.4,1171.1 450.8,1173.5 452.1,1176.0 453.4,1178.6 454.7,1181.2 456.0,1183.8 457.3,1186.3 458.7,1188.7 460.1,1190.9 461.5,1193.0 463.0,1194.8 464.6,1196.3 466.3,1197.5 468.1,1198.5 470.1,1199.1 472.2,1199.1 474.5,1198.4 476.9,1197.2 479.6,1195.6 482.3,1193.5 485.1,1191.3 487.9,1189.0 490.7,1186.8 493.4,1184.8 496.0,1183.1 498.4,1182.0 500.7,1181.4 502.7,1181.4 504.6,1182.0 506.4,1182.9 508.2,1184.1 509.8,1185.6 511.4,1187.3 512.9,1189.2 514.3,1191.3 515.7,1193.6 517.1,1196.0 518.5,1198.5 519.8,1200.9 521.1,1203.4 522.5,1205.9 523.9,1208.2 525.4,1210.4 526.9,1212.4 528.4,1214.2 530.0,1215.8 531.7,1217.1 533.5,1218.1 535.4,1218.9 537.4,1219.2 539.5,1219.1 541.8,1218.4 544.2,1217.2 546.7,1215.6 549.4,1213.8 552.1,1211.7 554.8,1209.6 557.5,1207.6 560.2,1205.7 562.8,1204.0 565.2,1202.7 567.6,1201.9 569.8,1201.6 571.8,1201.8 573.7,1202.5 575.4,1203.9 576.9,1205.9 578.2,1208.4 579.4,1211.2 580.5,1214.4 581.6,1217.8 582.6,1221.2 583.7,1224.5 584.8,1227.6 586.1,1230.3 587.5,1232.7 589.0,1234.5 590.7,1235.7" fill="none" stroke="#18b3cf" stroke-width="5.6"/>
<path d="M680,1722 C680.5,1713.1 683.6,1699.7 690,1690 C697.5,1678.6 711.1,1667.4 725,1660 C740.5,1651.8 763.7,1645.6 780,1645 C792.9,1644.6 806.6,1645.8 815,1652 C822.9,1657.9 827,1670 830,1680 C833,1690 833.6,1702.1 833,1712 C832.5,1720.6 833.4,1731.1 828,1736 C821.2,1742.1 803.6,1739.6 790,1740 C774.5,1740.5 755.7,1737.7 740,1738 C725.9,1738.2 710.5,1741.5 700,1741 C693.1,1740.7 686.3,1741.3 683,1738 C679.8,1734.8 679.6,1728.2 680,1722 Z" fill="#9ec4d8"/>
<path d="M680,1750 C683.4,1745.1 691.4,1745.3 700,1744 C714.5,1741.7 740,1743.3 760,1743 C780,1742.7 806.3,1737.7 820,1742 C828.3,1744.6 835.3,1749.1 838,1755 C840.8,1761 839.5,1771.6 836,1778 C832.2,1784.8 823.9,1791 815,1794 C803.3,1797.9 783.5,1794.9 770,1794 C759,1793.3 750.7,1790.4 740,1790 C727.6,1789.5 710.4,1794.9 700,1792 C692.4,1789.9 685.5,1786.1 682,1780 C677.9,1772.9 675.9,1755.9 680,1750 Z" fill="#9ec4d8" stroke="#ffffff" stroke-width="2.5"/>
<path d="M639,1797.5 L644,1795 643.8,1795.1 645.4,1793.9 646.8,1792.4 648.1,1790.6 649.2,1788.7 650.1,1786.5 651.0,1784.2 651.7,1781.7 652.3,1779.0 653.0,1776.3 653.5,1773.6 654.1,1770.9 654.7,1768.2 655.3,1765.6 656.0,1763.1 656.8,1760.8 657.8,1758.6 658.9,1756.7 660.2,1754.9 661.6,1753.5 663.3,1752.2 665.4,1751.6 667.9,1751.6 670.8,1752.4 674.0,1753.6 677.4,1755.2 680.8,1757.0 684.2,1758.7 687.3,1760.1 690.2,1761.1 692.6,1761.5 694.7,1761.1 696.4,1760.2 697.9,1758.9 699.2,1757.4 700.5,1755.6 701.6,1753.7 702.7,1751.5 703.7,1749.2 704.6,1746.7 705.6,1744.1 706.5,1741.5 707.5,1738.9 708.5,1736.2 709.6,1733.7 710.8,1731.3 712.1,1729.0 713.5,1726.9 715.0,1725.1 716.7,1723.5 718.4,1722.2 720.3,1721.1 722.3,1720.5 724.5,1720.5 727.0,1721.1 729.6,1722.4 732.3,1724.1 735.2,1726.2 738.0,1728.6 740.8,1731.0 743.5,1733.3 746.1,1735.3 748.6,1736.9 750.9,1738.0 753.0,1738.5 754.9,1738.3 756.7,1737.6 758.4,1736.5 760.1,1735.1 761.7,1733.4 763.2,1731.5 764.8,1729.2 766.3,1726.8 767.8,1724.3 769.3,1721.7 770.9,1719.1 772.5,1716.6 774.1,1714.2 775.8,1711.9 777.6,1709.9 779.4,1708.2 781.3,1706.8 783.3,1705.8 785.4,1705.2 787.6,1705.0 789.8,1705.3 792.0,1706.1 794.3,1707.5 796.6,1709.3 798.8,1711.4 801.0,1713.9 803.1,1716.5 805.1,1719.1 807.0,1721.7 808.8,1724.1 810.6,1726.3 812.5,1728.2 814.2,1729.6 816.0,1730.5 817.9,1731.0 819.7,1730.9 821.7,1730.3 823.8,1729.2 825.9,1727.6 828.1,1725.7 830.4,1723.6 832.8,1721.3 835.3,1719.0 837.7,1716.7 840.2,1714.7 842.7,1713.0 845.2,1711.8 847.5,1711.0 849.7,1710.8 851.9,1711.1 853.9,1711.9 855.8,1713.0 857.5,1714.4 859.2,1716.1 860.8,1718.1 862.2,1720.4 863.6,1722.8 864.9,1725.3 866.2,1727.9 867.5,1730.5 868.7,1733.1 869.9,1735.6 871.2,1738.0 872.5,1740.2 873.9,1742.1 875.3,1743.8 876.8,1745.3 878.4,1746.4 880.2,1747.2 882.1,1747.4 884.4,1746.8 886.9,1745.6 889.8,1744.0 892.8,1742.0 896.0,1739.9 899.3,1737.9 902.5,1736.1 905.6,1734.8 908.4,1734.1 911.0,1734.1 913.1,1734.8 914.8,1736.1 916.4,1737.6 917.7,1739.4 918.8,1741.4 919.8,1743.7 920.6,1746.1 921.3,1748.7 922.0,1751.4 922.5,1754.2 923.1,1757.0 923.7,1759.8 924.3,1762.6 924.9,1765.3 925.6,1767.9 926.4,1770.3 927.3,1772.5 928.3,1774.4 929.6,1776.2 931.0,1777.7 932.6,1778.9 934.5,1779.6 936.8,1779.8 939.5,1779.4 942.4,1778.6 945.6,1777.5 948.9,1776.1 952.2,1774.6 955.5,1773.2 958.6,1772.0 961.6,1771.1 964.3,1770.6 966.6,1770.7 968.6,1771.2 970.3,1772.3 971.7,1773.8 973.0,1775.5 974.0,1777.4 975.0,1779.6 975.8,1782.1 976.5,1784.7 977.1,1787.4 977.7,1790.3 978.4,1793.2 979.0,1796.0 979.7,1798.9 980.4,1801.6 981.3,1804.2 982.3,1806.6 983.4,1808.7 984.7,1810.6 986.2,1812.2 987.9,1813.5 989.8,1814.5 992.0,1814.8 994.4,1814.7 997.1,1814.0 1000.0,1812.8 1003.0,1811.3 1006.0,1809.6 1009.0,1807.8 1012.0,1805.9 1014.9,1804.2 1017.6,1802.8 1020.1,1801.8 1022.4,1801.3 1024.5,1801.3 1026.3,1801.8 1028.0,1802.8 1029.5,1804.1 1031.0,1805.7 1032.3,1807.6 1033.6,1809.8 1034.9,1812.2 1036.1,1814.8 1037.3,1817.5 1038.5,1820.2 1039.8,1823.0 1041.1,1825.7 1042.5,1828.2 1043.9,1830.6 1045.5,1832.8 1047.2,1834.7 1049.0,1836.3 1050.9,1837.5 1052.9,1838.3 1055.0,1838.8 1057.2,1838.6 1059.5,1837.8 1061.9,1836.5 1064.4,1834.6 1066.9,1832.4 1069.3,1829.9 1071.8,1827.3 1074.1,1824.7 1076.5,1822.2 1078.7,1820.0 1080.9,1818.1 1083.0,1816.7 1084.9,1815.9 1086.9,1815.7 1088.8,1816.0 1090.6,1816.8 1092.5,1818.0 1094.3,1819.6 1096.1,1821.5 1098.0,1823.7 1099.8,1826.1 1101.7,1828.6 1103.6,1831.2 1105.5,1833.8 1107.5,1836.2 1109.5,1838.5 1111.5,1840.5 1113.6,1842.1 1115.7,1843.4 1117.8,1844.2 1119.9,1844.6 1122.0,1844.5 1124.2,1843.8 1126.2,1842.7 1128.3,1841.2 1130.2,1839.2 1132.2,1836.9 1134.0,1834.3 1135.8,1831.6 1137.5,1828.8 1139.2,1826.0 1140.8,1823.4 1142.5,1820.9 1144.1,1818.7 1145.7,1816.9 1147.4,1815.4 1149.2,1814.5 1151.0,1813.9 1152.9,1814.0 1155.0,1814.7 1157.2,1816.0 1159.6,1817.8 1162.1,1820.0 1164.7,1822.4 1167.4,1824.9 1170.1,1827.4 1172.7,1829.6 1175.4,1831.4 1177.9,1832.8 1180.3,1833.5 1182.6,1833.6 1184.6,1833.1 1186.6,1832.2 1188.4,1830.9 1190.1,1829.5 1191.7,1827.7 1193.3,1825.7 1194.7,1823.5 1196.0,1821.2 1197.2,1818.7 1198.4,1816.1 1199.5,1813.5 1200.6,1810.9 1201.6,1808.4 1202.7,1806.0 1203.8,1803.6 1204.9,1801.5 1206.1,1799.5 1207.4,1797.8 1208.8,1796.3 1210.3,1795.0 1211.9,1794.1 1213.8,1793.6 1216.2,1794.1 1219.0,1795.2 1222.2,1796.8 1225.6,1798.8 1229.1,1800.8 1232.7,1802.6 1236.1,1803.9 1239.1,1804.5 1241.7,1804.4 1243.7,1803.4 1245.4,1802.0 1246.8,1800.4 1247.9,1798.5 1248.9,1796.4 1249.7,1794.2 1250.3,1791.8 1250.9,1789.2 1251.3,1786.6 1251.7,1783.9 1252.1,1781.1 1252.6,1778.3 1253.1,1775.6 1253.6,1772.9 1254.1,1770.3 1254.8,1767.9 1255.6,1765.6 1256.6,1763.5 1257.7,1761.5 1259.0,1759.9 1260.5,1758.4 1262.2,1757.3 1264.3,1756.6 1266.8,1756.6 1269.6,1757.0 1272.7,1757.9 1276.0,1759.1 1279.3,1760.6 1282.7,1762.1 1285.9,1763.4 1289.1,1764.5 1292.0,1765.3 1294.5,1765.6 1296.7,1765.3 1298.5,1764.6 1300.0,1763.3 1301.3,1761.8 1302.3,1759.9 1303.2,1757.7 1303.9,1755.2 1304.5,1752.5 1305.2,1749.6 1305.8,1746.6 1306.5,1743.4 1307.4,1740.2 1308.4,1737.1 1309.7,1734.1 1311.3,1731.2 1313.1,1728.6 1315.0,1726.4 1317.0,1724.6 1319.2,1723.2 1321.3,1722.2 1323.5,1721.7 1325.8,1721.8 1328.0,1722.6 1330.2,1724.0 1332.5,1726.0 1334.8,1728.4 1337.2,1731.1 1339.6,1734.1 1342.1,1737.1 1344.8,1740.1 1347.4,1743.0" fill="none" stroke="#18b3cf" stroke-width="5.6"/>
<use href="#genome" transform="translate(2462,1382) rotate(-90) scale(0.95)"/>
<circle cx="2450.5" cy="1469" r="8.3" fill="#3f79c8" stroke="#1c4b98" stroke-width="1.6"/>
<use href="#mprot" transform="translate(2209,1325)"/>
<use href="#mprot" transform="translate(2238,1325) rotate(-12)"/>
<use href="#mprot" transform="translate(2323.4,1290.5) rotate(-20)"/>
<use href="#mprot" transform="translate(2350.7,1277.6) rotate(-15)"/>
<use href="#mprot" transform="translate(2379.7,1271) rotate(-12)"/>
<use href="#mprot" transform="translate(2468.5,1256) rotate(-5)"/>
<use href="#mprot" transform="translate(2517.8,1262.4) rotate(3)"/>
<use href="#mprot" transform="translate(2592.4,1268) rotate(12)"/>
<use href="#mprot" transform="translate(2652,1286.8)"/>
<use href="#mprot" transform="translate(2719,1287.5) rotate(-10)"/>
<use href="#mprot" transform="translate(2768.5,1257.4) rotate(-30)"/>
<use href="#eprot" transform="translate(2299,1301) rotate(70)"/>
<use href="#eprot" transform="translate(2431,1260.7)"/>
<use href="#eprot" transform="translate(2554.6,1264) rotate(10)"/>
<use href="#eprot" transform="translate(2686.6,1290.8)"/>
<use href="#sprot" transform="translate(2267,1329) rotate(-18) scale(1.05)"/>
<use href="#sprot" transform="translate(2402.5,1277.5) rotate(-8) scale(1.05)"/>
<use href="#sprot" transform="translate(2492.8,1269) rotate(2) scale(1.05)"/>
<use href="#sprot" transform="translate(2623,1289) rotate(9) scale(1.05)"/>
<use href="#sprot" transform="translate(2746.8,1285.8) rotate(-15) scale(1.05)"/>
<use href="#mprot" transform="translate(2356.7,1874.3) rotate(-25)"/>
<use href="#mprot" transform="translate(2385.3,1863.3) rotate(-22)"/>
<use href="#mprot" transform="translate(2464.4,1830.3) rotate(-20)"/>
<use href="#mprot" transform="translate(2495.2,1819.3) rotate(-18)"/>
<use href="#mprot" transform="translate(2521.6,1812.7) rotate(-16)"/>
<use href="#mprot" transform="translate(2603,1788.5) rotate(-14)"/>
<use href="#mprot" transform="translate(2659.2,1773) rotate(-13)"/>
<use href="#mprot" transform="translate(2729.6,1759) rotate(-12)"/>
<use href="#mprot" transform="translate(2784.6,1747.6) rotate(-10)"/>
<use href="#mprot" transform="translate(2851.4,1733.6) rotate(-8)"/>
<use href="#mprot" transform="translate(2904,1729.2) rotate(-5)"/>
<use href="#eprot" transform="translate(2435.8,1847.9) rotate(160)"/>
<use href="#eprot" transform="translate(2570,1804.8) rotate(165)"/>
<use href="#eprot" transform="translate(2695.3,1768.7) rotate(168)"/>
<use href="#eprot" transform="translate(2818.4,1749) rotate(170)"/>
<use href="#sprot" transform="translate(2413.9,1856.7) rotate(165)"/>
<use href="#sprot" transform="translate(2545.8,1808.3) rotate(165)"/>
<use href="#sprot" transform="translate(2631.5,1782) rotate(167)"/>
<use href="#sprot" transform="translate(2761.2,1753.3) rotate(170)"/>
<use href="#sprot" transform="translate(2877.8,1731.4) rotate(175)"/>
<path d="M607.7,269.7 C658.6,285.6 701.0,316.3 713.2,370.6 L713.7,372.5" fill="none" stroke="url(#ag0)" stroke-width="6"/>
<path d="M721,399.8 L698.2,374.6 L728.2,366.6 Z" fill="#444444"/>
<path d="M651.2,708.6 C618.6,737.7 594.2,765.7 570.4,802.0 L569.3,803.7" fill="none" stroke="url(#ag1)" stroke-width="6.3"/>
<path d="M554.2,827.6 L557.3,793.7 L583.5,810.3 Z" fill="#444444"/>
<path d="M561.7,933.6 C531.9,969.1 516.1,1012.5 502.5,1056.1 L501.9,1058" fill="none" stroke="url(#ag2)" stroke-width="6.3"/>
<path d="M495.2,1080.7 L487.6,1051.7 L517.4,1060.5 Z" fill="#444444"/>
<path d="M558.8,1297.2 C537.7,1397.8 561.2,1489.7 601.9,1581.7 L602.7,1583.5" fill="none" stroke="url(#ag3)" stroke-width="6.3"/>
<path d="M615.9,1613 L587.8,1588 L616,1575.4 Z" fill="#444444"/>
<path d="M1295,1649.4 L1709,1649.4 L1711,1649.4" fill="none" stroke="#444444" stroke-width="5.9"/>
<path d="M1739.4,1649.6 L1708.9,1664.9 L1709.1,1633.9 Z" fill="#444444"/>
<path d="M1741.8,1474.9 C1942.1,1476.9 2178.8,1480.2 2362.8,1391.0 L2364.4,1389.9" fill="none" stroke="url(#ag5)" stroke-width="5.7"/>
<path d="M2384.1,1376.2 L2371.6,1403.7 L2354,1378.3 Z" fill="#444444"/>
<path d="M1742.1,1700.5 C1921.1,1699.3 2283.9,1737.2 2395.1,1560.0 L2396,1558.2" fill="none" stroke="url(#ag6)" stroke-width="5.9"/>
<path d="M2408.2,1535.2 L2408.8,1567.2 L2381.4,1552.8 Z" fill="#444444"/>
<path d="M2572.9,1731.2 C2581.0,1644.7 2555.0,1569.2 2524.6,1490.2 L2523.8,1488.4" fill="none" stroke="url(#ag7)" stroke-width="7.5"/>
<path d="M2512.1,1462.5 L2538.7,1483.8 L2510.5,1496.6 Z" fill="#444444"/>
<path d="M2432.1,1206.0 C2379.7,1139.0 2341.8,1094.8 2322.3,1010.5 L2322,1008.5" fill="none" stroke="url(#ag8)" stroke-width="7.4"/>
<path d="M2317.5,981.4 L2337.6,1008 L2307,1013 Z" fill="#444444"/>
<path d="M2459.9,736.5 C2633.9,698.7 2732.4,657.7 2775.2,474.3 L2775.4,472.3" fill="none" stroke="url(#ag9)" stroke-width="6.9"/>
<path d="M2778.1,444.8 L2790.6,475.8 L2759.8,472.8 Z" fill="#444444"/>
<circle cx="660.6" cy="134.8" r="32" fill="none" stroke="#141414" stroke-width="4.4"/>
<text x="660.6" y="147.2" text-anchor="middle" font-weight="bold" font-size="37" fill="#0a0a0a">1</text>
<circle cx="932.3" cy="736.7" r="32" fill="none" stroke="#141414" stroke-width="4.4"/>
<text x="932.3" y="749.1" text-anchor="middle" font-weight="bold" font-size="37" fill="#0a0a0a">2</text>
<circle cx="690" cy="1110" r="32" fill="none" stroke="#141414" stroke-width="4.4"/>
<text x="690" y="1122.4" text-anchor="middle" font-weight="bold" font-size="37" fill="#0a0a0a">3</text>
<circle cx="690" cy="1279.5" r="32" fill="none" stroke="#141414" stroke-width="4.4"/>
<text x="690" y="1291.9" text-anchor="middle" font-weight="bold" font-size="37" fill="#0a0a0a">4</text>
<circle cx="822.3" cy="1590.7" r="32" fill="none" stroke="#141414" stroke-width="4.4"/>
<text x="822.3" y="1603.1" text-anchor="middle" font-weight="bold" font-size="37" fill="#0a0a0a">5</text>
<circle cx="1556.8" cy="1168" r="36.2" fill="none" stroke="#141414" stroke-width="4.6"/>
<text x="1556.8" y="1180.4" text-anchor="middle" font-weight="bold" font-size="37" fill="#0a0a0a">6</text>
<circle cx="1767.9" cy="813.6" r="36.2" fill="none" stroke="#141414" stroke-width="4.6"/>
<text x="1767.9" y="826" text-anchor="middle" font-weight="bold" font-size="37" fill="#0a0a0a">7</text>
<circle cx="2315" cy="275.7" r="36.2" fill="none" stroke="#141414" stroke-width="4.6"/>
<text x="2315" y="288.1" text-anchor="middle" font-weight="bold" font-size="37" fill="#0a0a0a">8</text>
<text x="94.2" y="151.5" font-size="36" fill="#141414" textLength="195.8" lengthAdjust="spacingAndGlyphs">Coronavirus</text>
<text x="150" y="279" font-size="36" fill="#141414" textLength="98" lengthAdjust="spacingAndGlyphs">ACE-2</text>
<text x="126" y="327" font-size="36" fill="#141414" textLength="147" lengthAdjust="spacingAndGlyphs">Receptor</text>
<text x="726" y="151.5" font-size="37.5" font-weight="bold" fill="#141414" textLength="376" lengthAdjust="spacingAndGlyphs">Binding and viral entry</text>
<text x="72" y="554" font-size="36" fill="#5a7499" textLength="175" lengthAdjust="spacingAndGlyphs">Cytoplasm</text>
<text x="981.8" y="749.7" font-size="37.5" font-weight="bold" fill="#141414" textLength="403.2" lengthAdjust="spacingAndGlyphs">Release of viral genome</text>
<text x="836" y="898.3" font-size="36" fill="#141414" textLength="217" lengthAdjust="spacingAndGlyphs">RNA genome</text>
<text x="748" y="1112.8" font-size="37.5" font-weight="bold" fill="#141414" textLength="312.5" lengthAdjust="spacingAndGlyphs">Replication of viral</text>
<text x="748" y="1161.6" font-size="37.5" font-weight="bold" fill="#141414" textLength="229.7" lengthAdjust="spacingAndGlyphs">genomic RNA</text>
<text x="748" y="1292" font-size="37.5" font-weight="bold" fill="#141414" textLength="434" lengthAdjust="spacingAndGlyphs">Transcription of viral RNA</text>
<text x="907.7" y="1590.7" font-size="37.5" font-weight="bold" fill="#141414" textLength="562.1" lengthAdjust="spacingAndGlyphs">Translation of viral proteins using</text>
<text x="907.7" y="1638" font-size="37.5" font-weight="bold" fill="#141414" textLength="258.1" lengthAdjust="spacingAndGlyphs">host machinery</text>
<text x="1614.7" y="1179.9" font-size="37.5" font-weight="bold" fill="#141414" textLength="428.6" lengthAdjust="spacingAndGlyphs">Assembly of viral particle</text>
<text x="1826" y="805.6" font-size="37.5" font-weight="bold" fill="#141414" textLength="215" lengthAdjust="spacingAndGlyphs">Formation of</text>
<text x="1826" y="854.7" font-size="37.5" font-weight="bold" fill="#141414" textLength="221" lengthAdjust="spacingAndGlyphs">mature virion</text>
<text x="2373" y="284.5" font-size="37.5" font-weight="bold" fill="#141414" textLength="178.4" lengthAdjust="spacingAndGlyphs">Exocytosis</text>
<text x="2491.5" y="904.8" font-size="36" fill="#141414" textLength="190" lengthAdjust="spacingAndGlyphs">Virus inside</text>
<text x="2484.5" y="952.3" font-size="36" fill="#141414" textLength="204" lengthAdjust="spacingAndGlyphs">golgi vesicle</text>
<text x="1951.2" y="1420" font-size="36" fill="#141414" textLength="217.3" lengthAdjust="spacingAndGlyphs">Viral genome</text>
<text x="2559.4" y="1407.4" font-size="36" fill="#141414" textLength="224.9" lengthAdjust="spacingAndGlyphs">Nucleocapsid</text>
<text x="2419" y="1512.9" font-size="34" fill="#17506e" textLength="24" lengthAdjust="spacingAndGlyphs">N</text>
<text x="2020" y="1614.5" font-size="36" font-style="italic" fill="#141414" textLength="246.7" lengthAdjust="spacingAndGlyphs">N in cytoplasm</text>
<text x="2019.6" y="1780.5" font-size="36" font-style="italic" fill="#141414" textLength="223.2" lengthAdjust="spacingAndGlyphs">S, M, and E at</text>
<text x="2019.6" y="1830" font-size="36" font-style="italic" fill="#141414" textLength="231.9" lengthAdjust="spacingAndGlyphs">ER membrane</text>
<text x="2296.6" y="1846.4" font-size="34" fill="#3b3e90" textLength="28.6" lengthAdjust="spacingAndGlyphs">M</text>
<text x="2407.7" y="1821" font-size="34" fill="#b04289" textLength="17.6" lengthAdjust="spacingAndGlyphs">E</text>
<text x="2377.5" y="1961.9" font-size="34" fill="#267a7c" textLength="19.8" lengthAdjust="spacingAndGlyphs">S</text>
<text x="2812.6" y="2087.7" font-size="36" fill="#5a7499" textLength="213.4" lengthAdjust="spacingAndGlyphs">Endoplasmic</text>
<text x="2802" y="2136.3" font-size="36" fill="#5a7499" textLength="232.7" lengthAdjust="spacingAndGlyphs">reticulum (ER)</text></svg></body></html>
